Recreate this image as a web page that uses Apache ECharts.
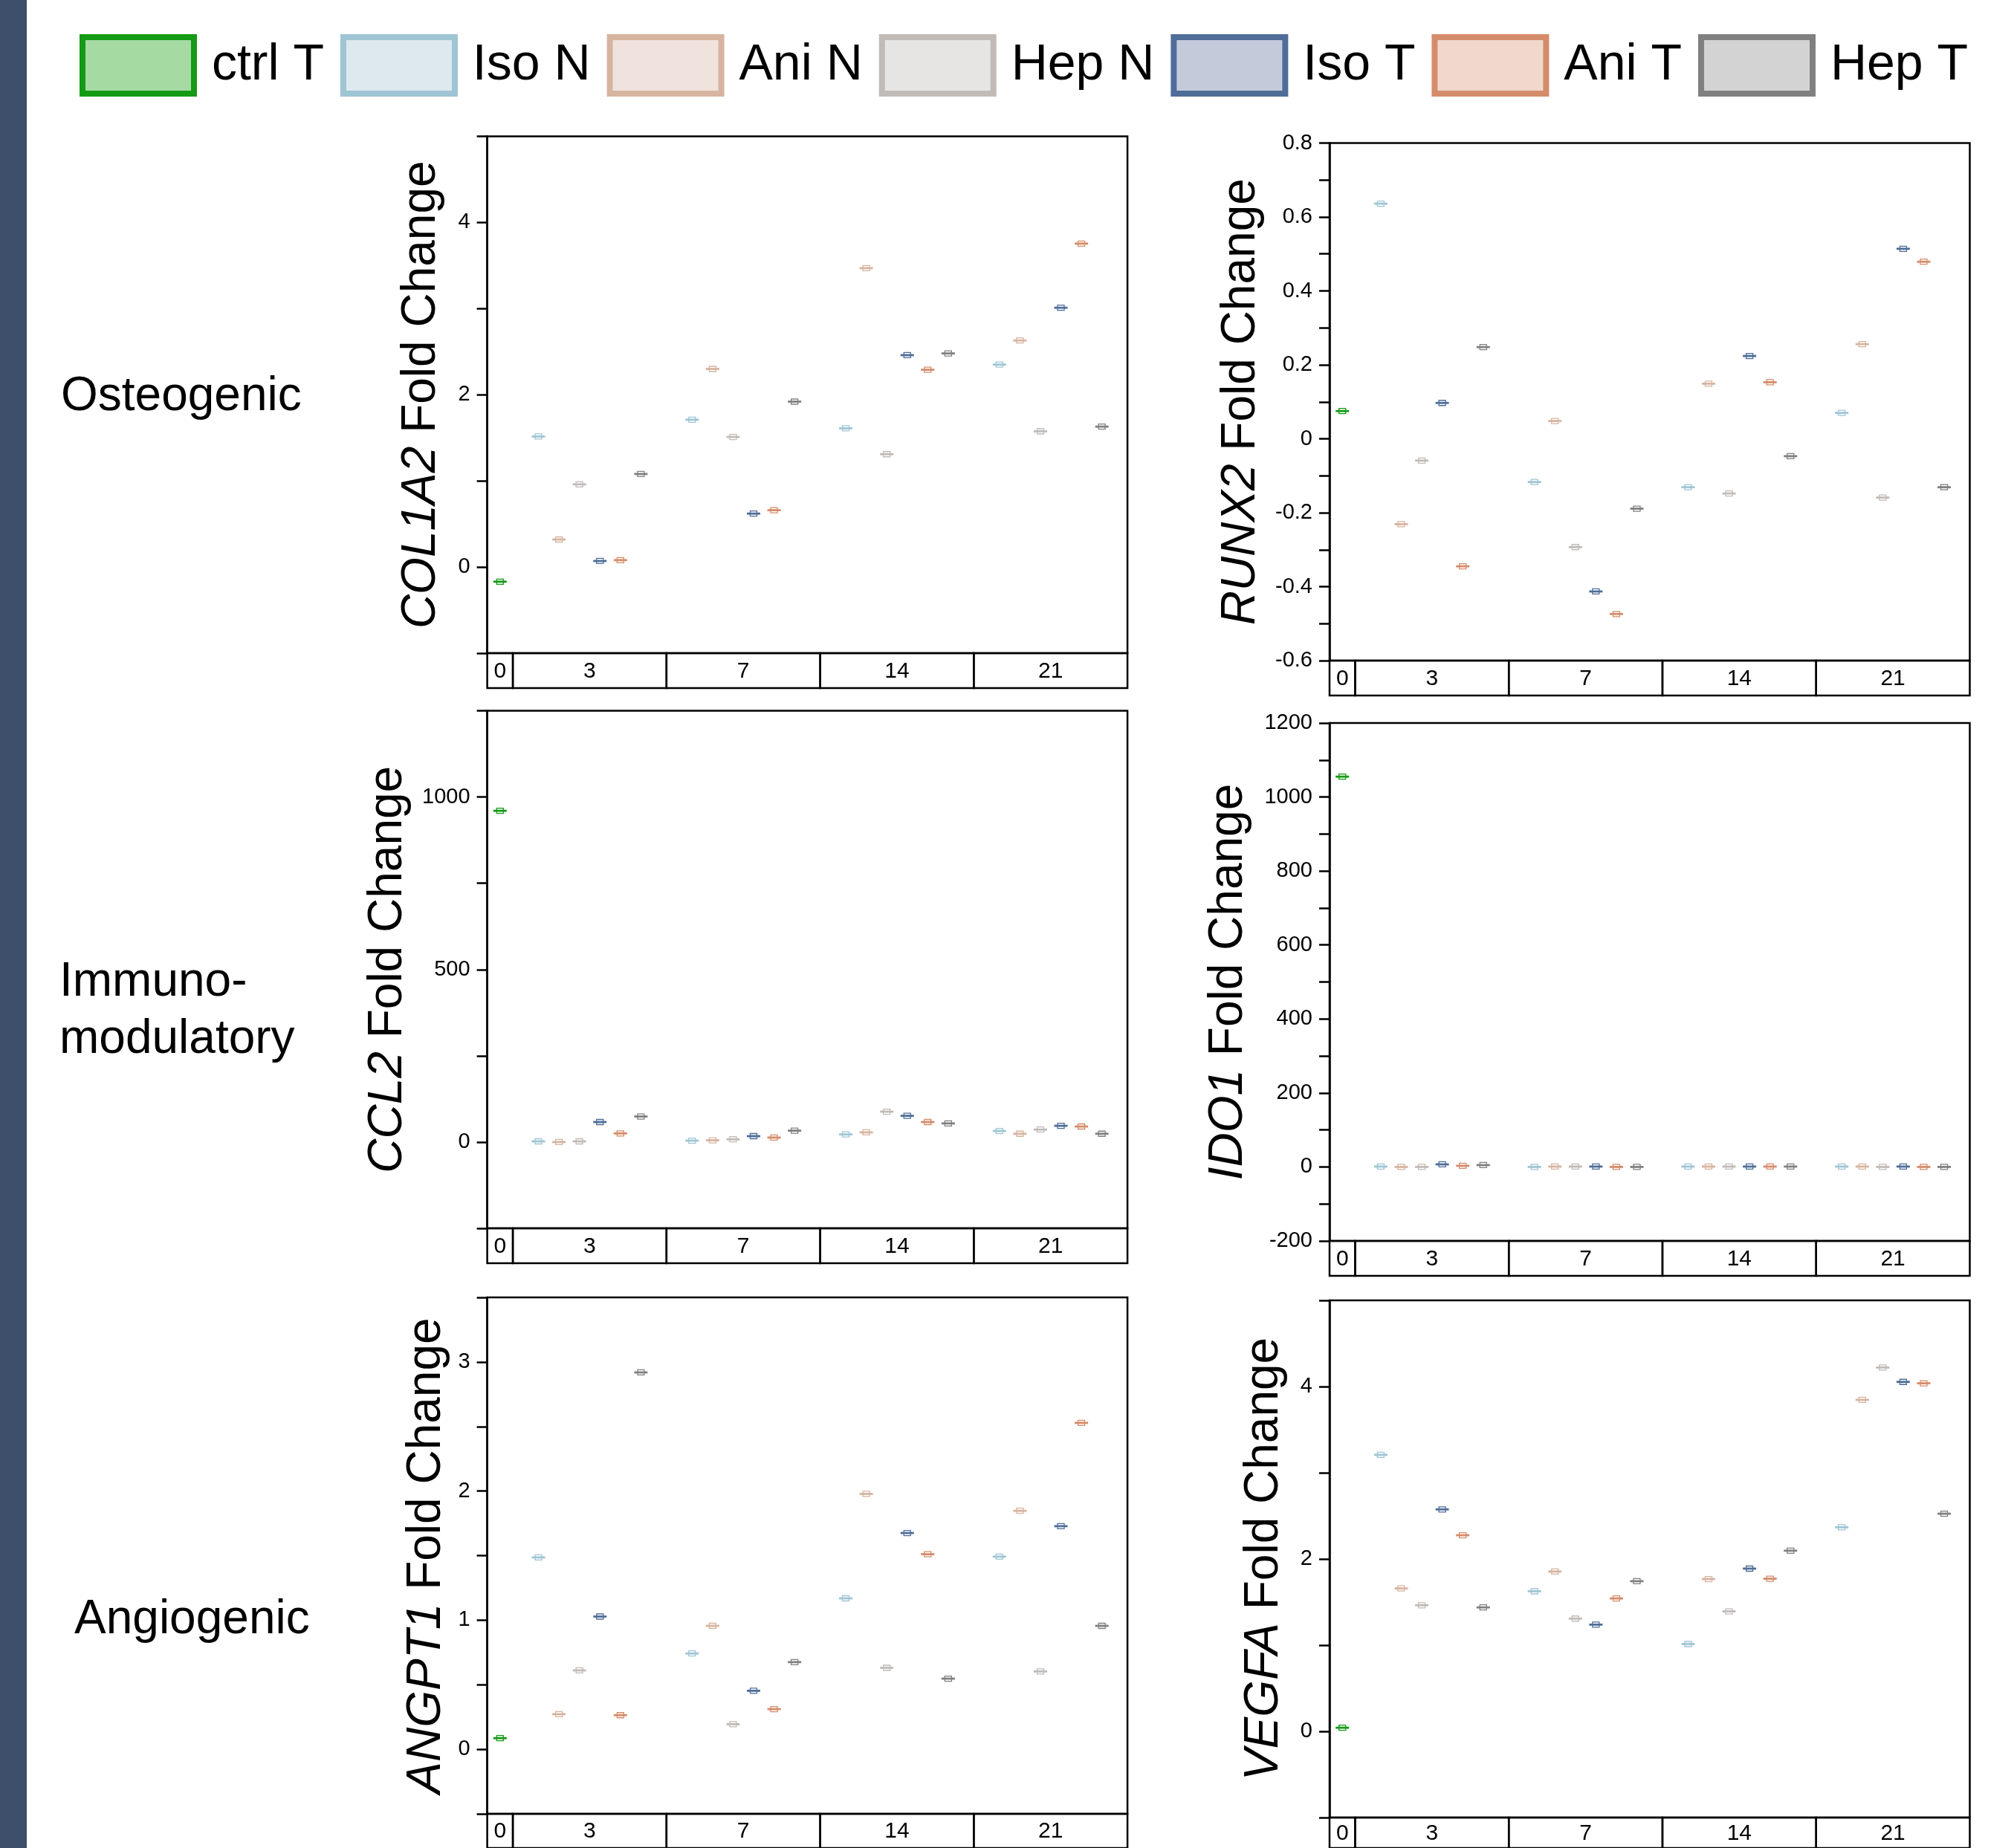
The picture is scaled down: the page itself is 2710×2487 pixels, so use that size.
<!DOCTYPE html>
<html>
<head>
<meta charset="utf-8">
<script src="https://cdn.jsdelivr.net/npm/echarts@6/dist/echarts.min.js"></script>
<style>
  html, body { margin: 0; padding: 0; background: #fff; }
  #chart { width: 2710px; height: 2487px; }
</style>
</head>
<body>
<div id="chart"></div>
<script>
// ---------------- data ----------------
const SERIES_NAMES = ['ctrl T', 'Iso N', 'Ani N', 'Hep N', 'Iso T', 'Ani T', 'Hep T'];
const DAYS = ['0', '3', '7', '14', '21'];
const ROW_LABELS = ['Osteogenic', 'Immuno-\nmodulatory', 'Angiogenic'];

// each row of the arrays below: one condition (Iso N, Ani N, Hep N, Iso T, Ani T, Hep T), values for days 3, 7, 14, 21
const COL1A2_ctrl = [-0.17];
const COL1A2 = [
  [1.515, 1.71, 1.61, 2.35],
  [0.32, 2.30, 3.47, 2.63],
  [0.96, 1.51, 1.31, 1.575],
  [0.07, 0.62, 2.46, 3.01],
  [0.08, 0.66, 2.29, 3.755],
  [1.08, 1.92, 2.48, 1.63]
];

const RUNX2_ctrl = [0.075];
const RUNX2 = [
  [0.636, -0.117, -0.131, 0.070],
  [-0.231, 0.048, 0.149, 0.256],
  [-0.059, -0.293, -0.148, -0.159],
  [0.097, -0.413, 0.224, 0.514],
  [-0.345, -0.474, 0.153, 0.479],
  [0.248, -0.189, -0.047, -0.131]
];

const CCL2_ctrl = [960];
const CCL2 = [
  [2, 4, 22, 32],
  [0, 5, 28, 24],
  [2, 8, 88, 36],
  [58, 17, 76, 47],
  [25, 13, 58, 45],
  [74, 33, 54, 24]
];

const IDO1_ctrl = [1055];
const IDO1 = [
  [1, 0, 1, 1],
  [0, 1, 1, 1],
  [0, 1, 1, 0],
  [7, 1, 1, 1],
  [3, 0, 1, 0],
  [5, 0, 1, 0]
];

const ANGPT1_ctrl = [0.086];
const ANGPT1 = [
  [1.486, 0.742, 1.169, 1.492],
  [0.272, 0.956, 1.978, 1.847],
  [0.611, 0.194, 0.631, 0.603],
  [1.028, 0.453, 1.675, 1.728],
  [0.264, 0.311, 1.511, 2.528],
  [2.919, 0.675, 0.547, 0.956]
];

const VEGFA_ctrl = [0.042];
const VEGFA = [
  [3.208, 1.625, 1.013, 2.367],
  [1.658, 1.854, 1.767, 3.846],
  [1.463, 1.308, 1.392, 4.221],
  [2.575, 1.238, 1.888, 4.054],
  [2.275, 1.542, 1.771, 4.038],
  [1.438, 1.742, 2.096, 2.525]
];

// ---------------- styling / layout ----------------
const LINE_COLORS = ['#159a15', '#9fc5d4', '#d6b4a0', '#c0bbb7', '#4f6d98', '#d58c6a', '#808080'];
const FILL_COLORS = ['#a6daa3', '#dde9ef', '#f0e3de', '#e7e5e4', '#c3cbdb', '#f0d8cd', '#d3d3d3'];
const FONT = '"Liberation Sans", Arial, Helvetica, sans-serif';

// x layout (axis units): day-0 cell then four day groups of six conditions
const CELL0 = 1.25, GROUP_W = 7.5;
const XMAX = CELL0 + GROUP_W * 4;
function xCtrl() { return CELL0 / 2; }
function xPos(g, s) { return CELL0 + GROUP_W * g + 1.25 + s; }
function cellBounds(k) {
  if (k === 0) return [0, CELL0];
  return [CELL0 + GROUP_W * (k - 1), CELL0 + GROUP_W * k];
}

const PANELS = [
  { gene: 'COL1A2', ctrl: COL1A2_ctrl, vals: COL1A2, min: -1, max: 5, interval: 1, labelStep: 2, left: 655.6, top: 183.5, height: 695.5, nameGap: 56 },
  { gene: 'RUNX2', ctrl: RUNX2_ctrl, vals: RUNX2, min: -0.6, max: 0.8, interval: 0.1, labelStep: 0.2, left: 1789, top: 192.5, height: 696.5, nameGap: 87, dec: 1 },
  { gene: 'CCL2', ctrl: CCL2_ctrl, vals: CCL2, min: -250, max: 1250, interval: 250, labelStep: 500, left: 655.6, top: 956.5, height: 696.5, nameGap: 101 },
  { gene: 'IDO1', ctrl: IDO1_ctrl, vals: IDO1, min: -200, max: 1200, interval: 100, labelStep: 200, left: 1789, top: 973, height: 697, nameGap: 104 },
  { gene: 'ANGPT1', ctrl: ANGPT1_ctrl, vals: ANGPT1, min: -0.5, max: 3.5, interval: 0.5, labelStep: 1, left: 655.6, top: 1746, height: 695, nameGap: 49 },
  { gene: 'VEGFA', ctrl: VEGFA_ctrl, vals: VEGFA, min: -1, max: 5, interval: 1, labelStep: 2, left: 1789, top: 1750, height: 696, nameGap: 56 }
];
const PLOT_W = 861.5;
const STRIP_H = 47;

const grids = [], xAxes = [], yAxes = [], series = [];

PANELS.forEach((p, i) => {
  grids.push({
    left: p.left, top: p.top, width: PLOT_W, height: p.height,
    show: true, borderColor: '#000', borderWidth: 2.5, backgroundColor: 'transparent'
  });
  xAxes.push({ gridIndex: i, type: 'value', min: 0, max: XMAX, show: false });
  yAxes.push({
    gridIndex: i, type: 'value', min: p.min, max: p.max, interval: p.interval,
    axisLine: { show: true, lineStyle: { color: '#000', width: 2.5 } },
    axisTick: { show: true, inside: false, length: 14, lineStyle: { color: '#000', width: 2.5 } },
    splitLine: { show: false },
    axisLabel: {
      color: '#000', fontSize: 29, fontFamily: FONT, margin: 23,
      formatter: function (v) {
        const r = Math.round(v / p.labelStep * 1000) / 1000;
        if (Math.abs(r - Math.round(r)) > 1e-6) return '';
        if (Math.abs(v) < 1e-9) return '0';
        return p.dec ? v.toFixed(p.dec) : String(Math.round(v * 1000) / 1000);
      }
    },
    name: '{i|' + p.gene + '} Fold Change',
    nameLocation: 'middle', nameRotate: 90, nameGap: p.nameGap,
    nameTextStyle: {
      color: '#000', fontSize: 64, fontFamily: FONT,
      rich: { i: { fontStyle: 'italic', fontSize: 64, fontFamily: FONT, color: '#000' } }
    }
  });

  SERIES_NAMES.forEach((name, s) => {
    let data;
    if (s === 0) data = p.ctrl.map(v => [xCtrl(), v]);
    else data = p.vals[s - 1].map((v, g) => [xPos(g, s - 1), v]);
    const col = LINE_COLORS[s];
    series.push({
      type: 'custom', name: name, xAxisIndex: i, yAxisIndex: i,
      itemStyle: { color: FILL_COLORS[s], borderColor: col },
      data: data,
      renderItem: function (params, api) {
        const c = api.coord([api.value(0), api.value(1)]);
        return {
          type: 'group',
          children: [
            { type: 'rect', shape: { x: c[0] - 4.5, y: c[1] - 3.5, width: 9, height: 7 },
              style: { fill: 'none', stroke: col, lineWidth: 1.3 } },
            { type: 'line', shape: { x1: c[0] - 9, y1: c[1], x2: c[0] + 9, y2: c[1] },
              style: { stroke: col, lineWidth: 2.8 } }
          ]
        };
      }
    });
  });
});

// day strips below each plot
PANELS.forEach((p, i) => {
  const gi = PANELS.length + i;
  grids.push({ left: p.left, top: p.top + p.height, width: PLOT_W, height: STRIP_H, show: false });
  xAxes.push({ gridIndex: gi, type: 'value', min: 0, max: XMAX, show: false });
  yAxes.push({ gridIndex: gi, type: 'value', min: 0, max: 1, show: false });
  series.push({
    type: 'custom', name: 'strip' + i, xAxisIndex: gi, yAxisIndex: gi,
    data: DAYS.map((d, k) => cellBounds(k)),
    renderItem: function (params, api) {
      const a = api.coord([api.value(0), 0]);
      const b = api.coord([api.value(1), 1]);
      return {
        type: 'group',
        children: [
          { type: 'rect', shape: { x: a[0], y: b[1], width: b[0] - a[0], height: a[1] - b[1] },
            style: { fill: 'none', stroke: '#000', lineWidth: 2.5 } },
          { type: 'text', style: { text: DAYS[params.dataIndex], x: (a[0] + b[0]) / 2, y: (a[1] + b[1]) / 2 + 1,
              align: 'center', verticalAlign: 'middle', fontSize: 30, fontFamily: FONT, fill: '#000' } }
        ]
      };
    }
  });
});

const chart = echarts.init(document.getElementById('chart'), null, { renderer: 'canvas' });
chart.setOption({
  backgroundColor: '#fff',
  animation: false,
  legend: {
    left: 102, top: 41, orient: 'horizontal',
    itemWidth: 150, itemHeight: 76, itemGap: 22,
    selectedMode: false,
    textStyle: { fontSize: 68, color: '#000', fontFamily: FONT },
    formatter: n => ' ' + n,
    data: SERIES_NAMES.map((n, k) => ({
      name: n, icon: 'rect',
      itemStyle: { color: FILL_COLORS[k], borderColor: LINE_COLORS[k], borderWidth: 8 }
    }))
  },
  grid: grids,
  xAxis: xAxes,
  yAxis: yAxes,
  series: series,
  graphic: [
    { type: 'rect', left: 0, top: 0, shape: { width: 36, height: 2487 }, style: { fill: '#3e4f6c' } },
    { type: 'text', left: 82, top: 540 - 38, style: { text: ROW_LABELS[0], fontSize: 64, fontFamily: FONT, fill: '#000' } },
    { type: 'text', left: 80, top: 1322 - 38, style: { text: ROW_LABELS[1], fontSize: 64, lineHeight: 77, fontFamily: FONT, fill: '#000' } },
    { type: 'text', left: 100, top: 2186 - 38, style: { text: ROW_LABELS[2], fontSize: 64, fontFamily: FONT, fill: '#000' } }
  ]
});
</script>
</body>
</html>
